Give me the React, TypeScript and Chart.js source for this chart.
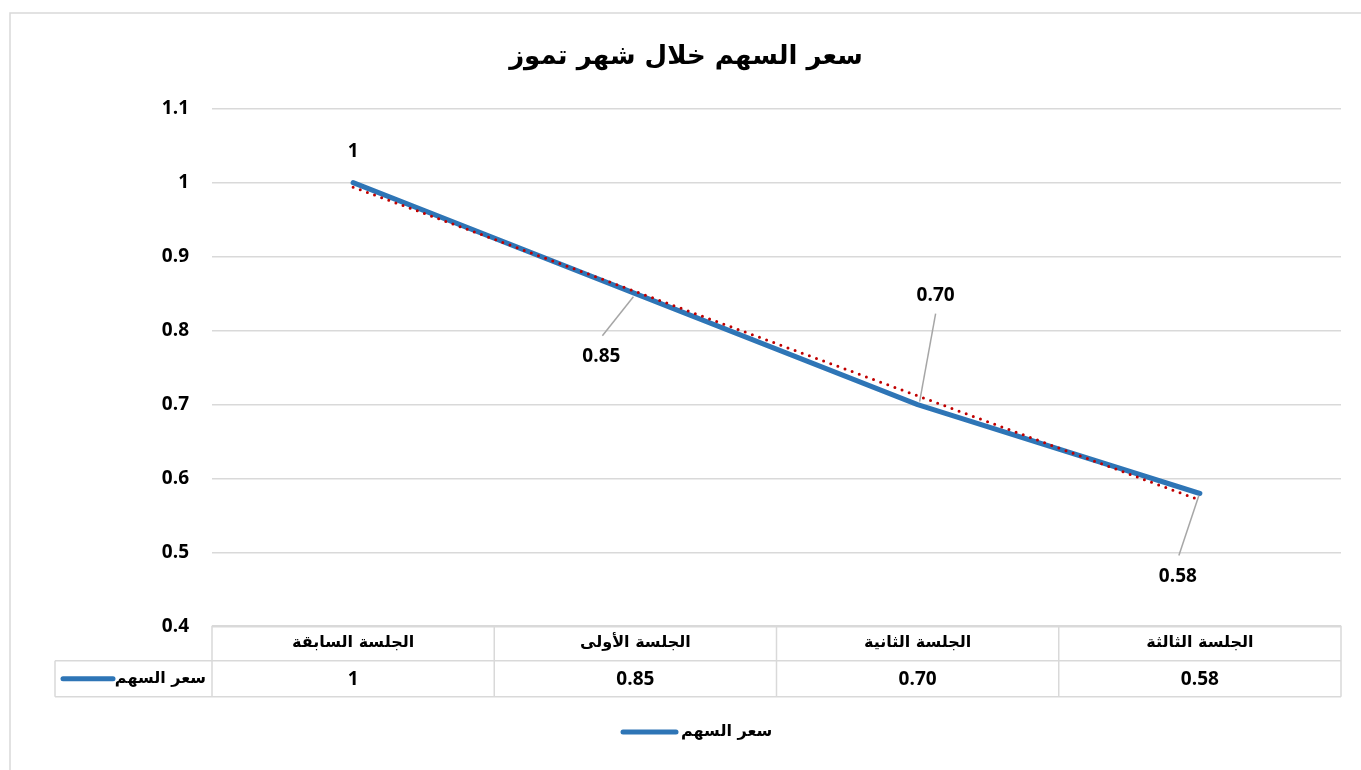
import React, { useEffect, useRef } from "react";
import { Chart, registerables } from "chart.js";

Chart.register(...registerables);

const chartTitle = "سعر السهم خلال شهر تموز";
const seriesName = "سعر السهم";
const categories = ["الجلسة السابقة", "الجلسة الأولى", "الجلسة الثانية", "الجلسة الثالثة"];
const prices = [1, 0.85, 0.7, 0.58];
const priceLabels = ["1", "0.85", "0.70", "0.58"];
const trendValues = [0.994, null, null, 0.571];
const yMin = 0.4;
const yMax = 1.1;
const yStep = 0.1;

const BLUE = "#2E75B6";
const RED = "#C00000";
const GRID = "#D9D9D9";
const LEADER = "#A6A6A6";
const NUM_FAMILY = "'Open Sans', 'DejaVu Sans', sans-serif";
const NUM_FONT = `bold 19px ${NUM_FAMILY}`;
const AR_FONT = "bold 16px 'DejaVu Sans', sans-serif";

const labelPlacement = [
  { dx: 0, dy: -31, leader: null },
  { dx: -34, dy: 63, leader: [[-2, 3], [-33, 42]] },
  { dx: 18, dy: -109, leader: [[2, -3], [18, -91]] },
  { dx: -22, dy: 83, leader: [[-1, 2], [-21, 62]] },
];

const decorPlugin = {
  id: "decor",
  beforeDraw(chart: any) {
    const ctx = chart.ctx;
    ctx.save();
    ctx.fillStyle = "#ffffff";
    ctx.fillRect(0, 0, chart.width, chart.height);
    ctx.strokeStyle = GRID;
    ctx.lineWidth = 1.5;
    ctx.strokeRect(10, 13, chart.width + 20, chart.height + 20);
    ctx.restore();
  },
  afterDatasetsDraw(chart: any) {
    const ctx = chart.ctx;
    const meta = chart.getDatasetMeta(1);
    ctx.save();
    meta.data.forEach((pt: any, i: number) => {
      const p = labelPlacement[i];
      if (p.leader) {
        ctx.strokeStyle = LEADER;
        ctx.lineWidth = 1.5;
        ctx.beginPath();
        ctx.moveTo(pt.x + p.leader[0][0], pt.y + p.leader[0][1]);
        ctx.lineTo(pt.x + p.leader[1][0], pt.y + p.leader[1][1]);
        ctx.stroke();
      }
      ctx.fillStyle = "#000";
      ctx.font = NUM_FONT;
      ctx.textAlign = "center";
      ctx.textBaseline = "middle";
      ctx.fillText(priceLabels[i], pt.x + p.dx, pt.y + p.dy);
    });
    ctx.restore();
  },
  afterDraw(chart: any) {
    const ctx = chart.ctx;
    const area = chart.chartArea;
    const xs = chart.scales.x;
    ctx.save();
    ctx.fillStyle = "#000";
    ctx.font = "bold 26px 'DejaVu Sans', sans-serif";
    ctx.textAlign = "center";
    ctx.textBaseline = "middle";
    ctx.fillText(chartTitle, 686, 57);

    const top = area.bottom - 1;
    const mid = top + 35;
    const bot = top + 71;
    const tableLeft = 55;
    const bounds: number[] = [area.left];
    for (let i = 0; i < categories.length - 1; i++) {
      bounds.push((xs.getPixelForValue(i) + xs.getPixelForValue(i + 1)) / 2);
    }
    bounds.push(area.right);
    ctx.strokeStyle = GRID;
    ctx.lineWidth = 1.5;
    ctx.beginPath();
    ctx.moveTo(area.left, top);
    ctx.lineTo(area.right, top);
    ctx.moveTo(tableLeft, mid);
    ctx.lineTo(area.right, mid);
    ctx.moveTo(tableLeft, bot);
    ctx.lineTo(area.right, bot);
    bounds.forEach((b) => {
      ctx.moveTo(b, top);
      ctx.lineTo(b, bot);
    });
    ctx.moveTo(tableLeft, mid);
    ctx.lineTo(tableLeft, bot);
    ctx.stroke();

    categories.forEach((c, i) => {
      const cx = xs.getPixelForValue(i);
      ctx.fillStyle = "#000";
      ctx.font = AR_FONT;
      ctx.textAlign = "center";
      ctx.textBaseline = "middle";
      ctx.fillText(c, cx, (top + mid) / 2);
      ctx.font = NUM_FONT;
      ctx.fillText(priceLabels[i], cx, (mid + bot) / 2 + 1);
    });
    const ry = (mid + bot) / 2;
    ctx.strokeStyle = BLUE;
    ctx.lineWidth = 5;
    ctx.lineCap = "round";
    ctx.beginPath();
    ctx.moveTo(63, ry);
    ctx.lineTo(113, ry);
    ctx.stroke();
    ctx.font = AR_FONT;
    ctx.textAlign = "right";
    ctx.fillText(seriesName, area.left - 6, ry);

    const ly = 732;
    ctx.beginPath();
    ctx.moveTo(623, ly);
    ctx.lineTo(676, ly);
    ctx.stroke();
    ctx.textAlign = "left";
    ctx.fillText(seriesName, 681, ly);
    ctx.restore();
  },
};

export default function App() {
  const ref = useRef<HTMLCanvasElement | null>(null);
  useEffect(() => {
    if (!ref.current) return;
    const chart = new Chart(ref.current, {
      type: "line",
      data: {
        labels: categories,
        datasets: [
          {
            label: "trend",
            data: trendValues as any,
            borderColor: RED,
            borderWidth: 3,
            borderDash: [0, 7.6],
            borderCapStyle: "round",
            pointRadius: 0,
            spanGaps: true,
            order: 0,
          },
          {
            label: seriesName,
            data: prices,
            borderColor: BLUE,
            borderWidth: 5,
            borderCapStyle: "round",
            borderJoinStyle: "round",
            pointRadius: 0,
            tension: 0,
            order: 1,
          },
        ],
      },
      options: {
        responsive: false,
        animation: false,
        layout: { padding: { left: 0, top: 108.7, right: 20, bottom: 143.3 } },
        plugins: {
          legend: { display: false },
          title: { display: false },
          tooltip: { enabled: false },
        },
        scales: {
          x: {
            display: false,
            offset: true,
          },
          y: {
            min: yMin,
            max: yMax,
            afterFit: (s: any) => {
              s.width = 212;
            },
            border: { display: false },
            grid: { color: GRID, lineWidth: 1.5, drawTicks: false },
            ticks: {
              stepSize: yStep,
              padding: 23,
              color: "#000",
              font: { family: NUM_FAMILY, size: 19, weight: "bold" },
              callback: (v: any) => String(Number(Number(v).toFixed(1))),
            },
          },
        },
      },
      plugins: [decorPlugin],
    });
    return () => chart.destroy();
  }, []);
  return (
    <div style={{ position: "fixed", left: 0, top: 0, width: 1361, height: 770, background: "#fff" }}>
      <canvas ref={ref} width={1361} height={770} style={{ display: "block" }} />
    </div>
  );
}
